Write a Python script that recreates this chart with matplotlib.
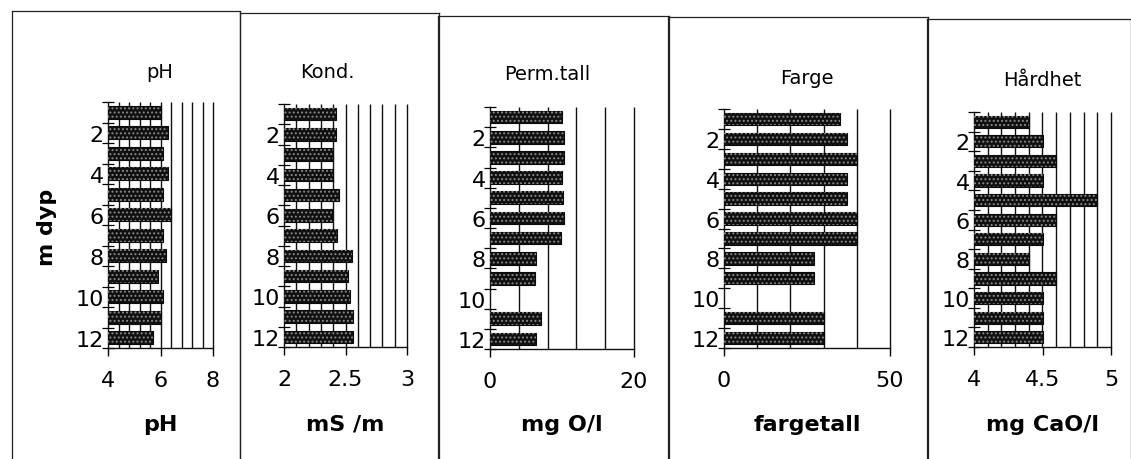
import numpy as np
import matplotlib
matplotlib.use("Agg")
import matplotlib.pyplot as plt
from matplotlib.lines import Line2D

plt.rcParams["font.family"] = ["DejaVu Sans"]
plt.rcParams["hatch.linewidth"] = 0.9

# Depth in metres (one bar per metre)
depth = np.arange(1, 13)
depth_ticks = [2, 4, 6, 8, 10, 12]

ph = [6.0, 6.3, 6.1, 6.3, 6.1, 6.4, 6.1, 6.2, 5.9, 6.1, 6.0, 5.7]
kond = [2.42, 2.42, 2.40, 2.40, 2.45, 2.39, 2.43, 2.55, 2.52, 2.54, 2.56, 2.56]
perm = [10.0, 10.3, 10.3, 10.0, 10.2, 10.3, 9.8, 6.4, 6.3, np.nan, 7.1, 6.4]
farge = [35, 37, 40, 37, 37, 40, 40, 27, 27, np.nan, 30, 30]
hardhet = [4.4, 4.5, 4.6, 4.5, 4.9, 4.6, 4.5, 4.4, 4.6, 4.5, 4.5, 4.5]

titles = ["pH", "Kond.", "Perm.tall", "Farge", "Hårdhet"]
units = ["pH", "mS /m", "mg O/l", "fargetall", "mg CaO/l"]
series = [ph, kond, perm, farge, hardhet]
xlims = [(4, 8), (2, 3), (0, 20), (0, 50), (4, 5)]
xticks = [[4, 6, 8], [2, 2.5, 3], [0, 20], [0, 50], [4, 4.5, 5]]
xticklabels = [["4", "6", "8"], ["2", "2.5", "3"], ["0", "20"], ["0", "50"], ["4", "4.5", "5"]]
grid_steps = [0.4, 0.1, 4, 10, 0.1]

W, H = 1131, 460
fig = plt.figure(figsize=(W / 100, H / 100), dpi=100)

# plot areas (pixel boxes: left, top, right, bottom)
boxes = [(108, 103, 213, 349), (284, 105, 407, 348), (490, 108, 634, 350),
         (724, 110, 890, 349), (974, 113, 1111, 348)]
title_pos = [(160, 72), (327, 72), (547, 75), (807, 78), (1042, 80)]
unit_y = 425

# panel frames: (left, top, right)
frames = [(12, 12, 240), (240, 14, 439), (438, 17, 669), (668, 18, 928), (927, 20, 1131)]


def fx(px):
    return px / W


def fy(py):
    return 1 - py / H


for (l, t, r) in frames:
    for xs, ys in [((l, r), (t, t)), ((l, l), (t, H)), ((r, r), (t, H))]:
        fig.add_artist(Line2D([fx(x) for x in xs], [fy(y) for y in ys],
                              color="#222222", lw=0.9))

for i in range(5):
    l, t, r, b = boxes[i]
    ax = fig.add_axes([fx(l), fy(b), (r - l) / W, (b - t) / H])
    lo, hi = xlims[i]
    ax.set_xlim(lo, hi)
    ax.set_ylim(12.5, 0.5)

    # vertical grid lines behind the bars
    gx = np.arange(lo + grid_steps[i], hi + grid_steps[i] / 2, grid_steps[i])
    ax.vlines(gx, 0.5, 12.5, color="#111111", lw=1.0, zorder=1, clip_on=False)

    vals = np.array(series[i], dtype=float)
    ok = ~np.isnan(vals)
    ax.barh(depth[ok], vals[ok] - lo, left=lo, height=0.62,
            color="#101010", edgecolor="#0a0a0a", lw=0.8, zorder=2)
    ax.barh(depth[ok], vals[ok] - lo, left=lo, height=0.62,
            facecolor="none", edgecolor="#8a8a8a", hatch="....", lw=0, zorder=3)

    for s in ["top", "right"]:
        ax.spines[s].set_visible(False)
    for s in ["left", "bottom"]:
        ax.spines[s].set_linewidth(1.0)
        ax.spines[s].set_color("#111111")

    ax.set_xticks(xticks[i])
    ax.set_xticklabels(xticklabels[i], fontsize=16)
    ax.tick_params(axis="x", direction="out", length=6, width=1.0, pad=10)

    ax.set_yticks(depth_ticks)
    ax.set_yticklabels([str(d) for d in depth_ticks], fontsize=16)
    ax.set_yticks(np.arange(0.5, 13, 1), minor=True)
    ax.tick_params(axis="y", which="major", length=0, pad=3)
    ax.tick_params(axis="y", which="minor", direction="inout", length=9, width=0.9)

    tx, ty = title_pos[i]
    fig.text(fx(tx), fy(ty), titles[i], ha="center", va="center", fontsize=14)
    fig.text(fx((l + r) / 2), fy(unit_y), units[i], ha="center", va="center",
             fontsize=16, fontweight="bold")

fig.text(fx(47), fy(227), "m dyp", rotation=90, ha="center", va="center",
         fontsize=16, fontweight="bold")

fig.savefig("out.png", dpi=100, facecolor="white")
